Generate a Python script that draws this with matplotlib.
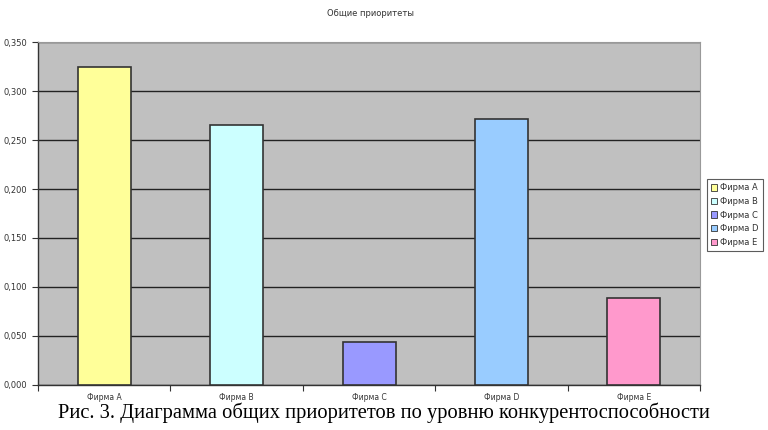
import matplotlib

matplotlib.use("Agg")
import matplotlib.pyplot as plt
from matplotlib.patches import Patch
from matplotlib.ticker import FuncFormatter, MultipleLocator

FIRMS = ["Фирма A", "Фирма B", "Фирма C", "Фирма D", "Фирма E"]
PRIORITY = [0.325, 0.265, 0.044, 0.272, 0.089]
COLORS = ["#FFFF99", "#CCFFFF", "#9999FF", "#99CCFF", "#FF99CC"]

fig = plt.figure(figsize=(7.68, 4.30), dpi=100)
ax = fig.add_axes([0.0495, 0.105, 0.862, 0.797])
ax.set_facecolor("#C0C0C0")

x = range(len(FIRMS))
ax.bar(list(x), PRIORITY, width=0.4, color=COLORS, edgecolor="#333333",
       linewidth=1.2, zorder=3)

ax.set_xlim(-0.5, len(FIRMS) - 0.5)
ax.set_ylim(0, 0.35)
ax.yaxis.set_major_locator(MultipleLocator(0.05))
ax.yaxis.set_major_formatter(FuncFormatter(lambda v, _: f"{v:.3f}".replace(".", ",")))
ax.grid(axis="y", color="#222222", linewidth=1.0, zorder=1)

# category labels centred, tick marks between categories (Excel style)
ax.set_xticks([i - 0.5 for i in range(len(FIRMS) + 1)])
ax.set_xticklabels([])
ax.set_xticks(list(x), minor=True)
ax.set_xticklabels(FIRMS, minor=True, fontsize=5.5, color="#333333")
ax.tick_params(axis="x", which="minor", length=0, pad=6)
ax.tick_params(axis="x", which="major", length=4, color="#333333", direction="out")
ax.tick_params(axis="y", length=4, color="#333333", labelsize=6, labelcolor="#333333")

for side in ("top", "right"):
    ax.spines[side].set_color("#999999")
    ax.spines[side].set_linewidth(0.8)
for side in ("left", "bottom"):
    ax.spines[side].set_color("#333333")
    ax.spines[side].set_linewidth(1.0)

fig.text(0.482, 0.968, "Общие приоритеты", ha="center", va="center",
         fontsize=6, color="#333333")

handles = [Patch(facecolor=c, edgecolor="#333333", linewidth=0.6) for c in COLORS]
leg = fig.legend(handles, FIRMS, loc="center left", bbox_to_anchor=(0.920, 0.500),
                 fontsize=6, frameon=True, fancybox=False, handlelength=0.8,
                 handleheight=0.8, handletextpad=0.3, borderpad=0.5,
                 labelspacing=0.55, borderaxespad=0)
leg.get_frame().set_edgecolor("#333333")
leg.get_frame().set_linewidth(0.8)
for t in leg.get_texts():
    t.set_color("#333333")

fig.text(0.5, 0.04, "Рис. 3. Диаграмма общих приоритетов по уровню конкурентоспособности",
         ha="center", va="center", fontsize=14.8, family="Liberation Serif")

fig.savefig("out.png", dpi=100)
plt.close(fig)
